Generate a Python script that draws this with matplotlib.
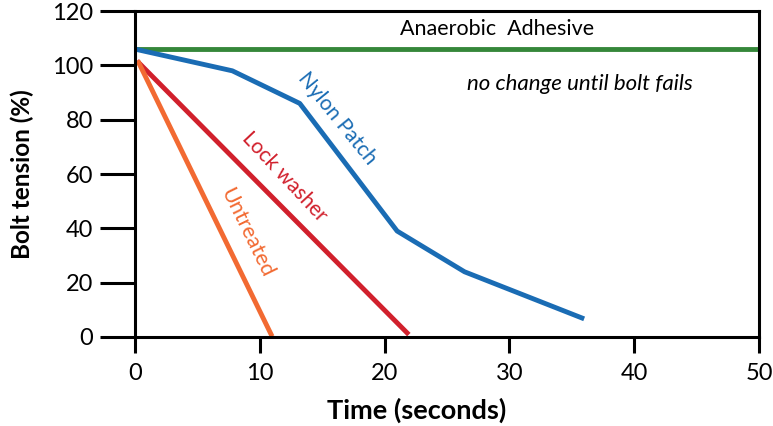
import matplotlib.pyplot as plt

# data
adh_x = [0, 50]
adh_y = [106, 106]
nylon_x = [0, 7.8, 13.2, 21.0, 26.4, 35.8]
nylon_y = [106, 98, 86, 39, 24, 7]
lock_x = [0.3, 21.8]
lock_y = [101, 1.5]
untr_x = [0.3, 10.9]
untr_y = [101, 1]

plt.rcParams['font.family'] = ['Lato', 'DejaVu Sans']

fig = plt.figure(figsize=(7.73, 4.26), dpi=100)
ax = fig.add_axes([0.1746, 0.209, 0.8075, 0.765])

ax.plot(adh_x, adh_y, color='#35873a', lw=3.5, solid_capstyle='butt')
ax.plot(nylon_x, nylon_y, color='#1a6cb4', lw=3.5)
ax.plot(lock_x, lock_y, color='#d1202c', lw=3.5)
ax.plot(untr_x, untr_y, color='#f26a32', lw=3.5)

ax.text(29, 113.5, 'Anaerobic  Adhesive', fontsize=15.5, ha='center', va='center')
ax.text(35.6, 93, 'no change until bolt fails', fontsize=16, style='italic',
        ha='center', va='center')
ax.text(16.2, 80.5, 'Nylon Patch', fontsize=15, color='#1a6cb4', rotation=-51,
        ha='center', va='center', rotation_mode='anchor')
ax.text(12.0, 59, 'Lock washer', fontsize=15, color='#d1202c', rotation=-47,
        ha='center', va='center', rotation_mode='anchor')
ax.text(9.0, 38.5, 'Untreated', fontsize=15.5, color='#f26a32', rotation=-64,
        ha='center', va='center', rotation_mode='anchor')

ax.set_xlim(0, 50)
ax.set_ylim(0, 120)
ax.set_xticks(range(0, 51, 10))
ax.set_yticks(range(0, 121, 20))
for s in ax.spines.values():
    s.set_linewidth(2.2)
ax.tick_params(width=2.2, labelsize=17)
ax.tick_params(axis='y', length=25, pad=5)
ax.tick_params(axis='x', length=11.5, pad=7)
ax.set_xlabel('Time (seconds)', fontsize=19.5, fontweight='bold')
ax.set_ylabel('Bolt tension (%)', fontsize=17.5, fontweight='bold')
ax.xaxis.set_label_coords(0.451, -0.185)
ax.yaxis.set_label_coords(-0.162, 0.5)

fig.savefig('out.png', dpi=100)
